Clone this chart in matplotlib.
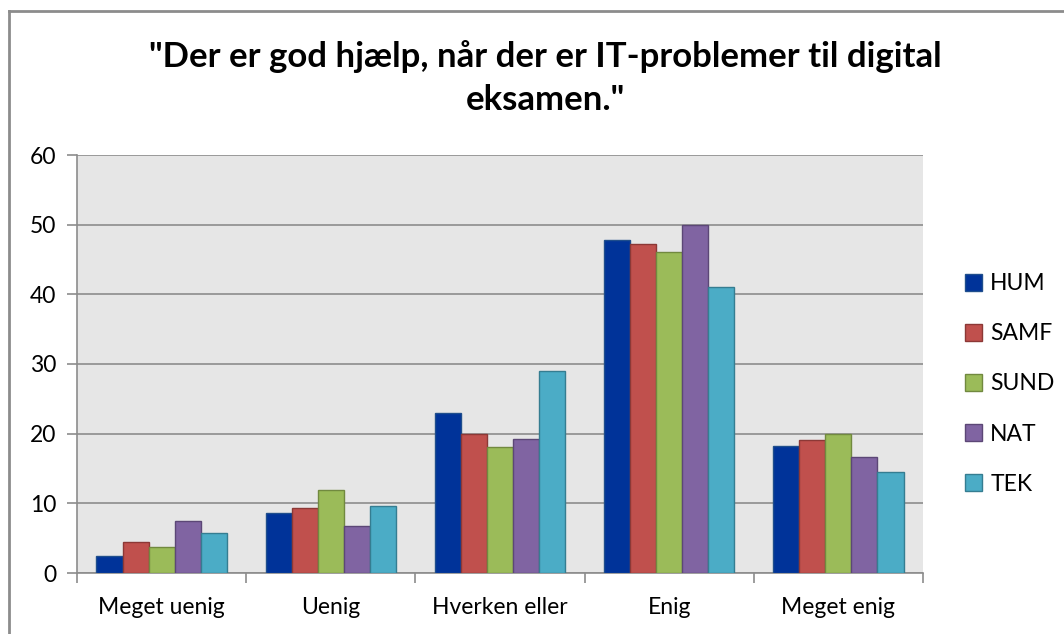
import numpy as np
import matplotlib.pyplot as plt
from matplotlib.lines import Line2D

plt.rcParams['font.family'] = ['Lato', 'DejaVu Sans']

# data
categories = ["Meget uenig", "Uenig", "Hverken eller", "Enig", "Meget enig"]
series = ["HUM", "SAMF", "SUND", "NAT", "TEK"]
hum = [2.5, 8.6, 22.9, 47.8, 18.2]
samf = [4.4, 9.4, 19.9, 47.2, 19.1]
sund = [3.8, 11.9, 18.1, 46.1, 19.9]
nat = [7.4, 6.7, 19.3, 50.0, 16.6]
tek = [5.7, 9.6, 29.0, 41.1, 14.5]
values = [hum, samf, sund, nat, tek]

colors = ["#003399", "#C0504D", "#9BBB59", "#8064A2", "#4BACC6"]
edges = ["#1F4E8C", "#8C3836", "#71893F", "#5C4776", "#357D91"]

fig = plt.figure(figsize=(10.64, 6.34), dpi=100)
ax = fig.add_axes([77 / 1064, 1 - 573 / 634, 846 / 1064, 418 / 634])
ax.set_facecolor("#E6E6E6")

x = np.arange(len(categories))
w = 0.154
for i, (name, vals) in enumerate(zip(series, values)):
    ax.bar(x + (i - 2) * w, vals, width=w, color=colors[i], edgecolor=edges[i],
           linewidth=1, label=name, zorder=3)

ax.set_xlim(-0.5, len(categories) - 0.5)
ax.set_ylim(0, 60)
ax.set_yticks(range(0, 61, 10))
ax.yaxis.grid(True, color="#8C8C8C", linewidth=1.2, zorder=1)
ax.set_axisbelow(True)

# category labels between boundary ticks
ax.set_xticks(np.arange(-0.5, len(categories)), minor=False)
ax.set_xticklabels([])
ax.set_xticks(x, minor=True)
ax.set_xticklabels(categories, minor=True)
ax.tick_params(axis="x", which="minor", length=0, pad=17, labelsize=16.5)
ax.tick_params(axis="x", which="major", length=7, width=1.2, color="#8C8C8C")
ax.tick_params(axis="y", length=7, width=1.2, color="#8C8C8C", labelsize=16.5, pad=8)

for side in ["top", "right"]:
    ax.spines[side].set_visible(False)
for side in ["left", "bottom"]:
    ax.spines[side].set_color("#8C8C8C")
    ax.spines[side].set_linewidth(1.2)

fig.text(545 / 1064, 1 - 57 / 634, "\"Der er god hjælp, når der er IT-problemer til digital",
         ha="center", va="center", fontsize=25, fontweight="bold")
fig.text(545 / 1064, 1 - 100 / 634, "eksamen.\"",
         ha="center", va="center", fontsize=25, fontweight="bold")

ax.legend(loc="center left", bbox_to_anchor=((965 - 77) / 846, (573 - 384) / 418),
          frameon=False, fontsize=16.5, handlelength=0.75, handleheight=0.75,
          labelspacing=1.27, handletextpad=0.35, borderpad=0, borderaxespad=0)

# chart border, only the top and left edges fall inside the picture
fig.add_artist(Line2D([9 / 1064, 9 / 1064], [0, 1 - 11 / 634], transform=fig.transFigure,
                      color="#8C8C8C", linewidth=2))
fig.add_artist(Line2D([9 / 1064, 1], [1 - 11 / 634, 1 - 11 / 634], transform=fig.transFigure,
                      color="#8C8C8C", linewidth=2))

fig.savefig("out.png", dpi=100)
